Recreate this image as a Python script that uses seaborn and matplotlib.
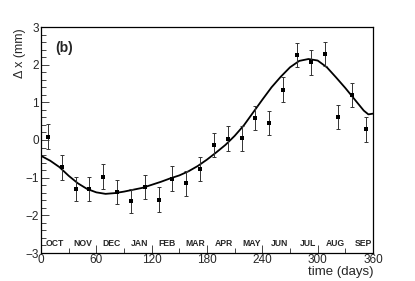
import numpy as np
import pandas as pd
import matplotlib
matplotlib.use("Agg")
import matplotlib.pyplot as plt
import seaborn as sns
from matplotlib.ticker import MultipleLocator

# measured points (day, delta x in mm, error)
days = [7.5, 22.5, 37.5, 52.5, 67.5, 82.5, 97.5, 112.5, 127.5, 142.5, 157.5, 172.5,
        187.5, 202.5, 217.5, 232.5, 247.5, 262.5, 277.5, 292.5, 307.5, 322.5, 337.5, 352.5]
dx = [0.09, -0.72, -1.31, -1.30, -0.97, -1.38, -1.62, -1.25, -1.59, -1.03, -1.15, -0.76,
      -0.13, 0.03, 0.04, 0.58, 0.45, 1.34, 2.25, 2.06, 2.29, 0.61, 1.20, 0.28]
err = [0.33, 0.33, 0.32, 0.32, 0.33, 0.32, 0.33, 0.32, 0.33, 0.33, 0.33, 0.32,
       0.32, 0.33, 0.33, 0.32, 0.33, 0.33, 0.32, 0.33, 0.32, 0.33, 0.32, 0.33]

# fitted curve
fit_days = [0, 10, 20, 30, 40, 50, 60, 70, 80, 90, 100, 110, 120, 130, 140, 150, 160,
            170, 180, 190, 200, 210, 220, 230, 240, 250, 260, 270, 280, 290, 300, 310,
            320, 330, 340, 350, 355, 360]
fit_dx = [-0.42, -0.55, -0.72, -0.95, -1.15, -1.30, -1.39, -1.43, -1.41, -1.37, -1.32,
          -1.27, -1.19, -1.11, -1.02, -0.94, -0.83, -0.69, -0.52, -0.33, -0.13, 0.11,
          0.39, 0.73, 1.07, 1.40, 1.68, 1.93, 2.10, 2.15, 2.11, 1.93, 1.66, 1.38, 1.08,
          0.78, 0.68, 0.70]

months = ['OCT', 'NOV', 'DEC', 'JAN', 'FEB', 'MAR', 'APR', 'MAY', 'JUN', 'JUL', 'AUG', 'SEP']

sns.set_style("ticks")
plt.rcParams['font.family'] = ['Liberation Sans', 'DejaVu Sans']

fig = plt.figure(figsize=(4.15, 2.81), dpi=100)
ax = fig.add_axes([41/415, 1-253/281, 332/415, 226/281])

fit = pd.DataFrame({'day': fit_days, 'dx': fit_dx})
sns.lineplot(data=fit, x='day', y='dx', color='black', lw=1.3, ax=ax)

ax.errorbar(days, dx, yerr=err, fmt='none', ecolor='#333333', elinewidth=0.7,
            capsize=1.3, capthick=0.7)
sns.scatterplot(x=days, y=dx, marker='s', s=7, color='black', edgecolor='black',
                linewidth=0, ax=ax, zorder=5)

ax.set_xlim(0, 360)
ax.set_ylim(-3, 3)
ax.xaxis.set_major_locator(MultipleLocator(60))
ax.xaxis.set_minor_locator(MultipleLocator(30))
ax.yaxis.set_major_locator(MultipleLocator(1))
ax.yaxis.set_minor_locator(MultipleLocator(0.2))
ax.tick_params(which='both', direction='in', labelsize=8.5, pad=1.5, width=0.6)
ax.tick_params(which='major', length=6)
ax.tick_params(which='minor', length=3.5)
ax.tick_params(axis='x', pad=1)
for s in ax.spines.values():
    s.set_linewidth(0.9)
    s.set_color('black')
ax.set_xlabel('')
ax.set_ylabel('')

month_len = 365.25 / 12
for i, m in enumerate(months):
    ax.text(15.2 + i * month_len, -2.76, m, ha='center', va='center',
            fontsize=6.2, fontweight='bold')

ax.text(0.043, 0.905, '(b)', transform=ax.transAxes, fontsize=10,
        fontweight='bold', va='center', ha='left')

fig.text(373/415, 1-272.5/281, 'time (days)', ha='right', va='center', fontsize=9.5)
fig.text(20/415, 1-28/281, 'Δ x (mm)', rotation=90, ha='center', va='top',
         fontsize=9)

fig.savefig('out.png', dpi=100)
